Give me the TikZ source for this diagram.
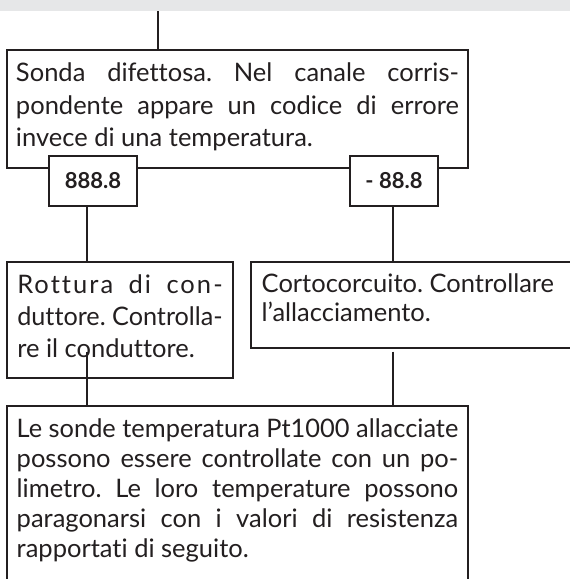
\documentclass[tikz,border=0pt]{standalone}
\usepackage{fontspec}
\setmainfont{Lato}[Ligatures=NoCommon]
\definecolor{ink}{HTML}{231F20}
\definecolor{band}{HTML}{E6E7E8}
\frenchspacing
\newsavebox\jlbox
\newcommand{\jl}[2]{\sbox\jlbox{#2}\ifdim\wd\jlbox>#1\relax
  \hbox to #1{\resizebox{#1}{\height}{\usebox\jlbox}}\else\hbox to #1{#2}\fi}
\begin{document}
\begin{tikzpicture}[x=1pt,y=-1pt,
  box/.style={draw=ink, line width=2pt, fill=white, inner sep=0pt, outer sep=0pt, anchor=north west},
  code/.style={draw=ink, line width=2pt, fill=white, inner sep=0pt, outer sep=0pt,
    minimum width=88pt, minimum height=50pt, text=ink,
    font=\bfseries\fontsize{22}{24}\selectfont},
  txt/.style={anchor=base west, inner sep=0pt, outer sep=0pt, text=ink,
    font=\fontsize{25.5}{30}\selectfont},
  wire/.style={draw=ink, line width=2pt}]
\useasboundingbox (0,0) rectangle (570,579);
\fill[band] (0,0) rectangle (570,11);
% boxes
\node[box, minimum width=461pt, minimum height=118pt] (top) at (7,50) {};
\node[box, minimum width=226pt, minimum height=116pt] (rot) at (7,262) {};
\node[box, minimum width=330pt, minimum height=86pt] (cor) at (251,262) {};
\node[box, minimum width=461pt, minimum height=200pt] (bot) at (7,406) {};
% texts
\node[txt] (toptxt) at (16,81.7) {\vtop{\baselineskip=32.6pt
  \jl{443pt}{Sonda difettosa. Nel canale corris-}
  \jl{443pt}{pondente appare un codice di errore}
  \hbox{invece di una temperatura.}}};
\node[txt] (rottxt) at (17.3,293) {\vtop{\baselineskip=32pt
  \jl{205.4pt}{\addfontfeature{LetterSpace=8}Rottura di con-}
  \jl{205.4pt}{duttore. Controlla-}
  \hbox{re il conduttore.}}};
\node[txt] (cortxt) at (261.7,292.3) {\vtop{\baselineskip=29.5pt
  \hbox{Cortocorcuito. Controllare}
  \hbox{l’allacciamento.}}};
\node[txt] (bottxt) at (16.7,437.7) {\vtop{\baselineskip=30pt
  \jl{441.6pt}{Le sonde temperatura Pt1000 allacciate}
  \jl{441.6pt}{possono essere controllate con un po-}
  \jl{441.6pt}{limetro. Le loro temperature possono}
  \jl{441.6pt}{paragonarsi con i valori di resistenza}
  \hbox{rapportati di seguito.}}};
% code boxes
\node[code] (c1) at (93,181) {888.8};
\node[code] (c2) at (394,181) {- 88.8};
% connectors
\coordinate (t0) at (158,11);
\coordinate (lx) at (87.3,0);
\coordinate (rx) at (392.7,0);
\coordinate (rs) at (87.3,351.7);
\coordinate (cs) at (392.7,351.7);
\draw[wire] (t0) -- (t0 |- top.north);
\draw[wire] (c1.south -| lx) -- (rot.north -| lx);
\draw[wire] (c2.south -| rx) -- (cor.north -| rx);
\draw[wire] (rs) -- (rs |- bot.north);
\draw[wire] (cs) -- (cs |- bot.north);
\end{tikzpicture}
\end{document}
